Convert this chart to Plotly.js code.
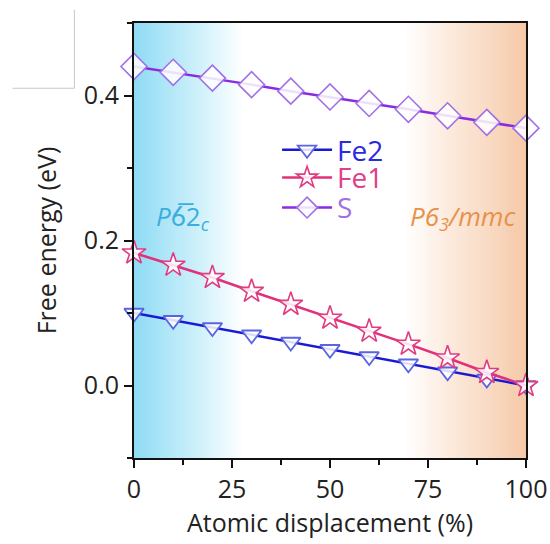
<!DOCTYPE html>
<html>
<head>
<meta charset="utf-8">
<script src="https://cdn.plot.ly/plotly-3.0.1.min.js"></script>
<style>html,body{margin:0;padding:0;background:#fff;}#plot{width:550px;height:544px;}</style>
</head>
<body>
<div id="plot"></div>
<script>
const displacement = [0, 10, 20, 30, 40, 50, 60, 70, 80, 90, 100];
const fe2 = [0.100, 0.090, 0.080, 0.070, 0.060, 0.050, 0.040, 0.030, 0.019, 0.009, 0.000];
const fe1 = [0.183, 0.166, 0.149, 0.130, 0.112, 0.093, 0.075, 0.057, 0.038, 0.018, 0.000];
const sS  = [0.440, 0.432, 0.424, 0.415, 0.406, 0.398, 0.389, 0.381, 0.372, 0.363, 0.355];
const xTicks = [0, 25, 50, 75, 100];
const yTicks = [0.0, 0.2, 0.4];

// background gradient columns
const bgX = [];
for (let i = 0; i <= 200; i++) bgX.push(i * 0.5);
const bgZ = [bgX.map(v => v), bgX.map(v => v)];

const font = "'Open Sans', Lato, sans-serif";

const traces = [
  {
    type: 'heatmap', x: bgX, y: [-0.1, 0.5], z: bgZ, showscale: false, hoverinfo: 'skip',
    zmin: 0, zmax: 100,
    colorscale: [[0, '#8fdbf4'], [0.06, '#a6e3f7'], [0.16, '#cdf0fa'], [0.28, '#ffffff'],
                 [0.69, '#ffffff'], [0.8, '#fcebde'], [0.9, '#f9dbc5'], [1, '#f5c9a7']],
    showlegend: false
  },
  {
    type: 'scatter', mode: 'lines+markers', x: displacement, y: fe2, legend: 'legend',
    name: '<span style="color:#2a2ae0">Fe2</span>',
    line: {color: '#1a1ad2', width: 2.5},
    marker: {symbol: 'triangle-down', size: 17, color: 'rgba(255,255,255,0.85)', line: {color: '#5a64e2', width: 1.8}},
    cliponaxis: false
  },
  {
    type: 'scatter', mode: 'lines+markers', x: displacement, y: fe1, legend: 'legend2',
    name: '<span style="color:#e0408a">Fe1</span>',
    line: {color: '#e2307a', width: 2.5},
    marker: {symbol: 'star', size: 18, color: 'rgba(255,255,255,0.85)', line: {color: '#e03c82', width: 1.6}},
    cliponaxis: false
  },
  {
    type: 'scatter', mode: 'lines+markers', x: displacement, y: sS, legend: 'legend3',
    name: '<span style="color:#a070e2">S</span>',
    line: {color: '#8a2be2', width: 2.5},
    marker: {symbol: 'diamond', size: 20, color: 'rgba(255,255,255,0.85)', line: {color: '#a070e6', width: 1.6}},
    cliponaxis: false
  }
];

const legendBase = {x: 0.365, xanchor: 'left', yanchor: 'middle', bgcolor: 'rgba(0,0,0,0)',
                    borderwidth: 0, font: {family: font, size: 28}, itemwidth: 50};

const layout = {
  width: 550, height: 544,
  margin: {l: 134, r: 24, t: 23, b: 86},
  paper_bgcolor: '#ffffff', plot_bgcolor: '#ffffff',
  font: {family: font, size: 25, color: '#222'},
  showlegend: true,
  legend: Object.assign({}, legendBase, {y: 0.708}),
  legend2: Object.assign({}, legendBase, {y: 0.644}),
  legend3: Object.assign({}, legendBase, {y: 0.575}),
  xaxis: {
    range: [0, 100], tickvals: xTicks, ticktext: xTicks.map(String),
    showgrid: false, zeroline: false, showline: true, linecolor: '#111', linewidth: 2, mirror: true,
    ticks: 'outside', ticklen: 8, tickwidth: 2, tickcolor: '#111',
    minor: {dtick: 12.5, tick0: 0, ticklen: 5, tickwidth: 2, tickcolor: '#111', ticks: 'outside'},
    tickfont: {family: font, size: 25, color: '#222'},
    title: {text: 'Atomic displacement (%)', font: {family: font, size: 25, color: '#222'}, standoff: 8}
  },
  yaxis: {
    range: [-0.1, 0.5], tickvals: yTicks, ticktext: yTicks.map(v => v.toFixed(1)),
    showgrid: false, zeroline: false, showline: true, linecolor: '#111', linewidth: 2, mirror: true,
    ticks: 'outside', ticklen: 8, tickwidth: 2, tickcolor: '#111',
    minor: {dtick: 0.1, tick0: 0, ticklen: 5, tickwidth: 2, tickcolor: '#111', ticks: 'outside'},
    tickfont: {family: font, size: 25, color: '#222'},
    title: {text: 'Free energy (eV)', font: {family: font, size: 25, color: '#222'}, standoff: 20}
  },
  annotations: [
    {xref: 'x', yref: 'y', x: 5, y: 0.232, xanchor: 'left', yanchor: 'middle', showarrow: false,
     text: '<i>P</i>6\u03052<sub><i>c</i></sub>', font: {family: font, size: 26, color: '#3aaee0'}},
    {xref: 'x', yref: 'y', x: 98, y: 0.232, xanchor: 'right', yanchor: 'middle', showarrow: false,
     text: '<i>P6</i><sub><i>3</i></sub><i>/mmc</i>', font: {family: font, size: 26, color: '#e8914a'}}
  ],
  shapes: [
    {type: 'line', xref: 'paper', yref: 'paper', x0: -0.152, x1: -0.152, y0: 1.03, y1: 0.85,
     line: {color: '#c8c8c8', width: 1}},
    {type: 'line', xref: 'paper', yref: 'paper', x0: -0.31, x1: -0.152, y0: 0.85, y1: 0.85,
     line: {color: '#c8c8c8', width: 1}}
  ]
};

Plotly.newPlot('plot', traces, layout, {staticPlot: true, displayModeBar: false});
</script>
</body>
</html>
